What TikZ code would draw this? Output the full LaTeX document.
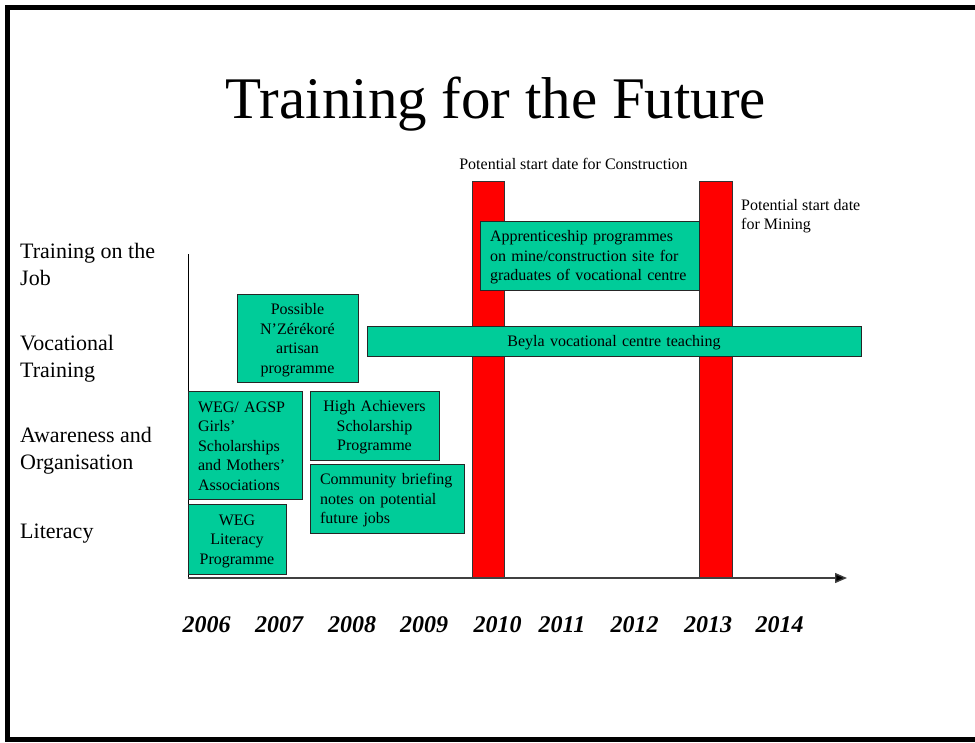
\documentclass[tikz,border=0pt]{standalone}
\usepackage{fontspec}
\setmainfont{Liberation Serif}
\usetikzlibrary{positioning, arrows.meta}
\definecolor{actgreen}{RGB}{0,204,153}
\definecolor{axisgray}{RGB}{64,64,64}
\tikzset {
    activity/.style={draw=black!85, line width=0.8pt, fill=actgreen, inner xsep=10pt, inner ysep=0pt,
        font=\fontsize{16}{19.5}\selectfont,
        execute at begin node={\rule{0pt}{15pt}}, execute at end node={\rule[-3pt]{0pt}{3pt}}},
    datebar/.style={draw=black!80, line width=0.6pt, fill=red, inner sep=0pt, minimum height=397pt},
    rowlabel/.style={anchor=west, align=left, inner sep=0pt, font=\fontsize{22}{27}\selectfont},
    note/.style={inner sep=0pt, font=\fontsize{16}{19.5}\selectfont},
    yearlabel/.style={anchor=base, inner sep=0pt, font=\fontsize{24}{28}\selectfont\bfseries\itshape},
    axisline/.style={draw=axisgray, line width=1.4pt}
}

\begin{document}
\begin{tikzpicture}[x=1pt, y=-1pt]
    \useasboundingbox (0,0) rectangle (975,742);
    \draw[line width=5pt] (980,7.5) -- (7.5,7.5) -- (7.5,739.5) -- (980,739.5);

    \node[anchor=base, inner sep=0pt, font=\fontsize{59}{64}\selectfont] (title) at (496,118) {Training for the Future};

    % start dates
    \node[datebar, minimum width=32pt] (bar2010) at (488,379.5) {};
    \node[datebar, minimum width=33pt] (bar2013) at (715.5,379.5) {};
    \node[note, anchor=base] (construction) at (573.5,169) {Potential start date for Construction};
    \node[note, anchor=north west, align=left] (mining) at (741,199) {Potential start date\\for Mining};

    % axes
    \coordinate (ytop) at (188,254);
    \coordinate (origin) at (188,578);
    \coordinate (xtip) at (847,578);
    \draw[axisline, draw=black, line width=1pt] (ytop) -- (origin);
    \draw[axisline, -{Triangle[length=12pt, width=10pt, fill=black]}] (origin) -- (xtip);

    \node[rowlabel] (job) at (20,264) {Training on the\\Job};
    \node[rowlabel] (vocational) at (20,359) {Vocational\\Training};
    \node[rowlabel] (awareness) at (20,451) {Awareness and\\Organisation};
    \node[rowlabel] (literacy) at (20,534) {Literacy};

    % activities
    \node[activity, text width=101pt, minimum height=88pt, align=center] (artisan) at (297.5,338) {Possible\\N’Zérékoré\\artisan\\programme};
    \node[activity, text width=94pt, minimum height=108pt, align=left] (wegagsp) at (245,445) {WEG/ AGSP\\Girls’\\Scholarships\\and Mothers’\\Associations};
    \node[activity, text width=109pt, minimum height=69pt, align=center] (achievers) at (374.5,425.5) {High Achievers\\Scholarship\\Programme};
    \node[activity, text width=134pt, minimum height=69pt, align=left] (briefing) at (387,498.5) {Community briefing\\notes on potential\\future jobs};
    \node[activity, text width=78pt, minimum height=70pt, align=center] (wegliteracy) at (237,539) {WEG\\Literacy\\Programme};
    \node[activity, text width=199pt, minimum height=69pt, align=left] (apprentice) at (589.5,255.5) {Apprenticeship programmes\\on mine/construction site for\\graduates of vocational centre};
    \node[activity, text width=474pt, minimum height=30pt, align=center] (beyla) at (614,341) {Beyla vocational centre teaching};

    % years
    \foreach \yr/\xx in {2006/206.5, 2007/279, 2008/352, 2009/424, 2010/497.5, 2011/562, 2012/634.5, 2013/708, 2014/779.5}
        \node[yearlabel] (y\yr) at (\xx,632) {\yr};
\end{tikzpicture}
\end{document}
